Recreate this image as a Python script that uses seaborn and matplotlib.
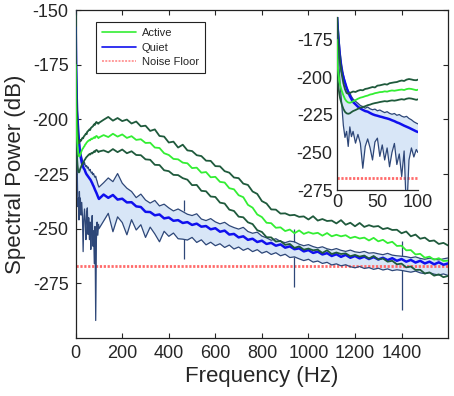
import numpy as np
import matplotlib
matplotlib.use("Agg")
import matplotlib.pyplot as plt
from matplotlib.lines import Line2D
import seaborn as sns

# frequency grid (Hz): fine below 100 Hz for the inset, 20 Hz steps above
freq_low = [0, 1, 2, 3, 4, 6, 8, 10, 12, 14, 16, 18, 20, 23, 26, 29, 32, 35, 38, 41,
            44, 47, 50, 53, 56, 59, 62, 65, 68, 71, 74, 77, 80, 83, 86, 89, 92, 95, 98, 100]
freq_high = [120, 140, 160, 180, 200, 220, 240, 260, 280, 300,
             320, 340, 360, 380, 400, 420, 440, 460, 480, 500,
             520, 540, 560, 580, 600, 620, 640, 660, 680, 700,
             720, 740, 760, 780, 800, 820, 840, 860, 880, 900,
             920, 940, 960, 980, 1000, 1020, 1040, 1060, 1080, 1100,
             1120, 1140, 1160, 1180, 1200, 1220, 1240, 1260, 1280, 1300,
             1320, 1340, 1360, 1380, 1400, 1420, 1440, 1460, 1480, 1500,
             1520, 1540, 1560, 1580, 1600]

# Active: mean and upper/lower bounds (dB)
active_upper = [-152, -168, -177, -184, -190, -198, -204, -208, -210.5, -211,
                -210.5, -210, -209.5, -209.8, -209, -208.5, -208.7, -207.8, -207.5, -207,
                -206.5, -206.8, -205.6, -205.4, -205, -204.6, -204.9, -204, -203.7, -203.4,
                -203.2, -202.6, -202.2, -202.5, -201.6, -201.2, -201.5, -201.9, -202, -201.6,
                -200.2, -198.9, -200.6, -199.4, -200.8, -200.1, -201.9, -201.0, -203.2, -202.9,
                -205.3, -204.6, -207.6, -207.9, -210.6, -210.2, -212.9, -211.6, -214.2, -214.5,
                -216.4, -216.8, -218.9, -219.0, -221.4, -221.5, -223.7, -224.4, -226.6, -226.9,
                -229.4, -230.0, -233.0, -234.1, -237.4, -238.5, -241.2, -241.3, -243.1, -243.0,
                -243.9, -243.7, -244.6, -244.4, -245.8, -244.3, -246.3, -245.6, -246.5, -246.3,
                -247.6, -246.1, -248.2, -247.3, -248.9, -247.4, -249.2, -248.4, -249.1, -248.8,
                -250.2, -249.7, -250.6, -250.5, -252.1, -251.3, -253.5, -252.7, -254.6, -254.1,
                -255.7, -255.4, -257.0, -256.5, -257.7]
active_mean = [-175, -193, -198, -202, -205, -209, -212, -214.5, -216, -216.8,
               -217, -216.6, -216, -215.2, -214.3, -213.6, -213.2, -212.6, -212.2, -211.5,
               -211.2, -210.6, -210.3, -209.9, -209.8, -209.4, -209.6, -209.1, -208.8, -209.0,
               -208.7, -208.4, -208.2, -208.5, -207.9, -207.6, -207.8, -208.2, -208.6, -208.3,
               -207.2, -208.1, -206.6, -207.9, -206.9, -208.5, -207.7, -209.4, -209.1, -210.8,
               -210.7, -212.9, -213.1, -215.5, -216.3, -218.1, -218.3, -219.8, -220.1, -222.3,
               -222.1, -224.4, -224.1, -226.5, -226.3, -228.6, -228.9, -231.5, -232.0, -234.7,
               -235.6, -239.1, -240.4, -243.5, -244.7, -247.3, -247.5, -249.6, -249.4, -251.1,
               -250.4, -252.1, -250.8, -252.4, -251.6, -252.3, -251.9, -253.2, -252.0, -253.5,
               -252.8, -253.5, -253.0, -254.3, -253.7, -254.5, -254.1, -255.4, -254.2, -255.8,
               -255.1, -256.6, -256.0, -257.9, -257.8, -259.9, -259.8, -261.8, -261.5, -263.3,
               -262.8, -264.2, -263.5, -264.8, -264.6]
active_lower = [-180, -202, -207, -211, -214, -218, -221, -223, -224, -224.3,
                -224, -223.2, -222.5, -221.8, -221, -220.2, -219.8, -219.3, -218.6, -218.2,
                -217.6, -217.2, -216.9, -216.5, -216.2, -215.9, -216.1, -215.7, -215.4, -215.6,
                -215.3, -214.9, -214.6, -214.9, -214.3, -214.0, -214.2, -214.6, -215.0, -214.7,
                -214.2, -215.1, -213.6, -215.0, -213.8, -215.5, -214.6, -216.3, -216.4, -218.3,
                -218.5, -220.8, -220.9, -223.3, -223.7, -225.4, -225.5, -226.9, -227.6, -230.1,
                -230.0, -232.7, -232.9, -235.3, -235.5, -238.1, -238.5, -241.3, -241.9, -244.5,
                -244.8, -247.1, -247.9, -250.7, -251.5, -253.9, -254.0, -255.9, -255.6, -257.4,
                -257.0, -258.8, -258.1, -259.6, -259.1, -259.9, -259.6, -261.1, -259.9, -261.6,
                -260.9, -261.6, -261.3, -262.6, -262.0, -262.8, -262.3, -263.7, -262.5, -264.1,
                -263.6, -265.1, -264.7, -266.3, -266.0, -267.7, -267.3, -268.9, -268.8, -270.5,
                -270.0, -271.5, -270.9, -272.2, -271.6]

# Quiet: mean and upper/lower bounds (dB)
quiet_upper = [-150, -163, -170, -177, -183, -192, -198, -203, -206.5, -209,
               -210.5, -212.8, -214.5, -216.0, -217.3, -218.8, -219.5, -220.6, -219.8, -221.0,
               -221.6, -221.2, -222.3, -221.8, -222.7, -223.5, -222.9, -224.0, -224.6, -224.1,
               -225.3, -224.8, -225.9, -226.5, -226.0, -227.4, -228.3, -229.6, -230.5, -231.0,
               -229.0, -226.8, -228.5, -224.8, -229.2, -231.5, -233.0, -235.8, -234.2, -236.9,
               -238.3, -237.1, -239.6, -238.8, -240.5, -241.9, -241.0, -242.2, -243.4, -244.0,
               -243.2, -245.6, -246.3, -245.4, -246.9, -247.8, -247.1, -248.6, -249.5, -250.2,
               -249.4, -251.3, -252.1, -251.6, -253.4, -254.2, -255.3, -254.6, -255.8, -256.4,
               -255.7, -256.0, -257.1, -257.8, -257.3, -258.2, -258.8, -258.3, -259.2, -259.7,
               -259.1, -259.9, -260.4, -259.8, -260.6, -260.9, -260.4, -261.2, -261.0, -261.5,
               -261.9, -261.3, -262.1, -262.4, -262.6, -262.8, -263.3, -262.9, -263.6, -264.0,
               -263.5, -263.9, -264.3, -263.8, -263.4]
quiet_mean = [-158, -167, -175, -182, -188, -196, -200, -203.5, -207, -210,
              -212.5, -214.5, -216.5, -218.0, -219.6, -220.8, -221.7, -222.5, -222.9, -223.8,
              -224.6, -225.2, -225.6, -226.1, -226.5, -227.0, -227.4, -227.9, -228.6, -229.2,
              -230.0, -230.6, -231.4, -232.2, -232.9, -233.6, -234.4, -235.2, -236.0, -236.4,
              -234.4, -235.9, -234.6, -236.7, -236.3, -238.0, -237.9, -239.8, -240.1, -242.3,
              -242.4, -243.9, -243.5, -245.3, -244.9, -246.4, -246.1, -247.4, -247.0, -248.3,
              -247.7, -249.1, -248.8, -250.3, -249.8, -251.4, -250.9, -252.7, -252.4, -254.0,
              -253.5, -255.1, -254.6, -256.1, -255.5, -257.0, -256.5, -257.8, -257.2, -258.7,
              -258.1, -259.4, -259.0, -260.4, -259.8, -261.1, -260.5, -261.8, -261.2, -262.5,
              -261.7, -262.9, -262.0, -263.3, -262.5, -263.6, -262.8, -263.9, -263.0, -264.1,
              -263.3, -264.4, -263.5, -264.7, -263.9, -265.1, -264.3, -265.5, -264.7, -265.9,
              -265.1, -266.3, -265.4, -266.5, -265.9]
quiet_lower = [-162, -172, -185, -196, -205, -218, -232, -240, -236, -246,
               -233, -239.5, -236, -243.8, -238, -244, -260.5, -246, -241, -247,
               -255, -243, -240.5, -252.6, -245, -255, -247, -259.5, -250, -244,
               -258, -251, -266, -249, -292, -255, -247, -253, -248, -250,
               -246.5, -243.0, -251.4, -244.6, -247.2, -252.8, -245.9, -250.6, -248.2, -254.0,
               -249.3, -252.4, -256.0, -251.2, -253.5, -252.0, -254.6, -254.8, -255.2, -254.0,
               -256.3, -255.1, -257.4, -256.2, -257.8, -256.9, -258.6, -257.5, -259.3, -258.4,
               -259.9, -259.0, -260.5, -259.6, -261.2, -260.4, -261.8, -261.0, -262.4, -261.7,
               -263.2, -262.9, -263.8, -264.6, -264.0, -265.3, -264.8, -265.9, -265.4, -266.6,
               -266.1, -267.0, -266.5, -267.4, -267.9, -267.3, -268.2, -267.8, -268.6, -268.1,
               -268.9, -268.4, -269.2, -268.8, -269.1, -269.5, -269.9, -269.4, -270.2, -270.6,
               -270.1, -270.8, -271.2, -270.7, -271.4]

# narrow line-noise spikes on the quiet bounds
spike_freq = [466, 940, 1402]
spike_upper_base = [-242.0, -256.0, -262.6]
spike_upper_tip = [-237.0, -250.0, -255.5]
spike_lower_base = [-254.8, -262.9, -269.1]
spike_lower_tip = [-263.7, -276.5, -287.4]

noise_floor = -267

freq = np.array(freq_low + freq_high)

c_lime = '#33ee33'
c_dark = '#1f5a3c'
c_blue = '#1010ee'
c_navy = '#2e4778'
c_fill = '#d8e6f7'
c_noise = '#ff6a6a'

sns.set_style("white")
plt.rcParams['font.family'] = ['Liberation Sans', 'DejaVu Sans']
plt.rcParams['axes.unicode_minus'] = False

fig = plt.figure(figsize=(4.54, 3.96), dpi=100)
ax = fig.add_axes([0.1667, 0.1465, 0.8203, 0.8282])
ins = fig.add_axes([0.742, 0.520, 0.1785, 0.437])


def draw(a, spikes):
    a.fill_between(freq, quiet_upper, quiet_lower, color=c_fill, lw=0, zorder=1)
    a.axhline(noise_floor, color=c_noise, ls=(0, (0.8, 0.6)), lw=2.0, zorder=2)
    sns.lineplot(x=freq, y=quiet_lower, ax=a, color=c_navy, lw=0.9, errorbar=None, zorder=3)
    sns.lineplot(x=freq, y=quiet_upper, ax=a, color=c_navy, lw=0.9, errorbar=None, zorder=3)
    if spikes:
        a.vlines(spike_freq, spike_upper_base, spike_upper_tip, color=c_navy, lw=0.9, zorder=3)
        a.vlines(spike_freq, spike_lower_base, spike_lower_tip, color=c_navy, lw=0.9, zorder=3)
    sns.lineplot(x=freq, y=quiet_mean, ax=a, color=c_blue, lw=1.8, errorbar=None, zorder=4)
    sns.lineplot(x=freq, y=active_upper, ax=a, color=c_dark, lw=1.3, errorbar=None, zorder=5)
    sns.lineplot(x=freq, y=active_lower, ax=a, color=c_dark, lw=1.3, errorbar=None, zorder=5)
    sns.lineplot(x=freq, y=active_mean, ax=a, color=c_lime, lw=1.3, errorbar=None, zorder=6)


draw(ax, True)
ax.set_xlim(0, 1600)
ax.set_ylim(-300, -150)
ax.set_xticks([0, 200, 400, 600, 800, 1000, 1200, 1400])
ax.set_yticks([-275, -250, -225, -200, -175, -150])
ax.tick_params(direction='in', length=3.5, width=0.8, labelsize=13, pad=5,
               top=True, right=True, bottom=True, left=True)
ax.set_xlabel('Frequency (Hz)', fontsize=16, labelpad=3)
ax.set_ylabel('Spectral Power (dB)', fontsize=16, labelpad=5)
for s in ax.spines.values():
    s.set_color('#222222')
    s.set_linewidth(0.9)

handles = [Line2D([], [], color=c_lime, lw=1.2),
           Line2D([], [], color=c_blue, lw=1.2),
           Line2D([], [], color='#ff9a9a', lw=1.4, ls=(0, (1, 0.7)))]
leg = ax.legend(handles, ['Active', 'Quiet', 'Noise Floor'], loc='upper left',
                bbox_to_anchor=(0.054, 0.963), fontsize=8, fancybox=False,
                edgecolor='#222222', framealpha=1, handlelength=3.1,
                handletextpad=0.5, borderpad=0.55, labelspacing=0.4, borderaxespad=0)
leg.get_frame().set_linewidth(0.8)

draw(ins, False)
ins.set_xlim(0, 100)
ins.set_ylim(-275, -160)
ins.set_xticks([0, 50, 100])
ins.set_yticks([-275, -250, -225, -200, -175])
ins.tick_params(direction='in', length=3, width=0.8, labelsize=13, pad=3)
ins.set_xlabel('')
ins.set_ylabel('')
ins.patch.set_alpha(0)
sns.despine(ax=ins)
for s in ['left', 'bottom']:
    ins.spines[s].set_color('#222222')
    ins.spines[s].set_linewidth(0.9)

fig.savefig('out.png', dpi=100)
